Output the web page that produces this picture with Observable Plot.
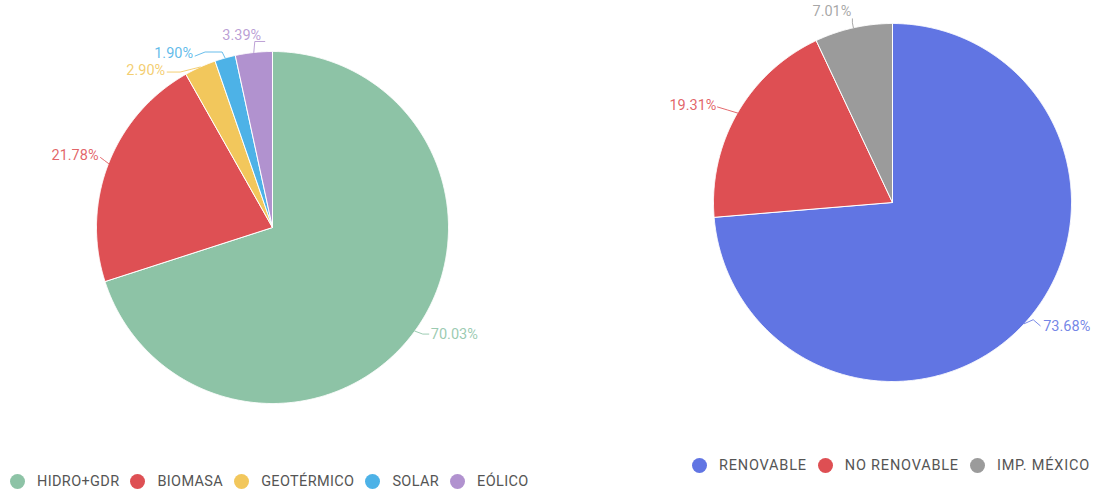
<!DOCTYPE html>
<html>
<head>
<meta charset="utf-8">
<script src="https://cdn.jsdelivr.net/npm/d3@7"></script>
<script src="https://cdn.jsdelivr.net/npm/@observablehq/plot@0.6"></script>
<style>
  body { margin: 0; background: #fff; font-family: Roboto, "Noto Sans", sans-serif; }
  #wrap { display: flex; width: 1097px; }
  .panel { position: relative; }
  .legend { display: flex; align-items: center; font-size: 14.5px; color: #555; white-space: nowrap; }
  .legend .item { display: flex; align-items: center; margin-right: 11px; }
  .legend .sw { width: 15px; height: 15px; border-radius: 50%; margin-right: 12px; }
</style>
</head>
<body>
<div id="wrap"><div class="panel" id="left"></div><div class="panel" id="right"></div></div>
<script>
// ---- Data ----
const leftCategories = ["HIDRO+GDR", "BIOMASA", "GEOTÉRMICO", "SOLAR", "EÓLICO"];
const leftValues = [70.03, 21.78, 2.90, 1.90, 3.39];
const leftColors = ["#8dc3a6", "#de5054", "#f2c75c", "#4db2e7", "#b192cf"];

const rightCategories = ["RENOVABLE", "NO RENOVABLE", "IMP. MÉXICO"];
const rightValues = [73.68, 19.31, 7.01];
const rightColors = ["#6175e3", "#de4f53", "#9b9b9b"];

// ---- Layout (label nudges in px from slice edge point, y down) ----
const leftLabelLayout = [
  {anchor: "start",  text: [16, 3],    leader: [[8, 3], [14, 3]]},
  {anchor: "end",    text: [-10, -8],  leader: [[-4, -3], [-8, -6]]},
  {anchor: "end",    text: [-35, 3],   leader: [[-20, 5], [-33, 5]]},
  {anchor: "end",    text: [-32, -5],  leader: [[-3, -6], [-20, -6], [-30, -2]]},
  {anchor: "middle", text: [-12, -17], leader: [[1, -11], [11, -11]]}
];
const rightLabelLayout = [
  {anchor: "start", text: [19, 3],   leader: [[9, -4], [16, 2]]},
  {anchor: "end",   text: [-21, -8], leader: [[-10, -3], [-20, -6]]},
  {anchor: "end",   text: [-2, -16], leader: [[-1, -5], [-1, -9]]}
];

function makePie({cats, vals, colors, layout, width, height, cx, cy, r}) {
  const total = d3.sum(vals);
  let acc = 0;
  const slices = [];
  const leaders = [];
  const labels = [];
  vals.forEach((v, i) => {
    const a0 = acc / total * 2 * Math.PI;
    acc += v;
    const a1 = acc / total * 2 * Math.PI;
    const n = Math.max(2, Math.ceil((a1 - a0) / 0.005));
    slices.push({name: cats[i], x: 0, y: 0});
    for (let k = 0; k <= n; k++) {
      const a = a0 + (a1 - a0) * k / n;
      slices.push({name: cats[i], x: Math.sin(a), y: Math.cos(a)});
    }
    slices.push({name: cats[i], x: 0, y: 0});
    const am = (a0 + a1) / 2;
    const ex = Math.sin(am), ey = Math.cos(am);
    const L = layout[i];
    leaders.push({name: cats[i], x: ex, y: ey});
    L.leader.forEach(([dx, dy]) => leaders.push({name: cats[i], x: ex + dx / r, y: ey - dy / r}));
    labels.push({name: cats[i], anchor: L.anchor, x: ex + L.text[0] / r, y: ey - L.text[1] / r,
                 text: v.toFixed(2) + "%"});
  });
  const textMark = (anchor) => Plot.text(labels.filter(d => d.anchor === anchor), {
    x: "x", y: "y", text: "text", fill: "name", textAnchor: anchor,
    fontSize: 14.5, fontFamily: "Roboto", fillOpacity: 0.88
  });
  return Plot.plot({
    width, height,
    marginLeft: cx - r, marginRight: width - cx - r,
    marginTop: cy - r, marginBottom: height - cy - r,
    x: {domain: [-1, 1], axis: null},
    y: {domain: [-1, 1], axis: null},
    color: {domain: cats, range: colors},
    style: {overflow: "visible", background: "transparent"},
    marks: [
      Plot.line(slices, {x: "x", y: "y", z: "name", fill: "name", stroke: "#fff", strokeWidth: 1, curve: "linear"}),
      Plot.line(leaders, {x: "x", y: "y", z: "name", stroke: "name", strokeWidth: 1, strokeOpacity: 0.85}),
      textMark("start"), textMark("end"), textMark("middle")
    ]
  });
}

function makeLegend(cats, colors, top, left, spacing) {
  const div = document.createElement("div");
  div.className = "legend";
  div.style.marginTop = top + "px";
  div.style.marginLeft = left + "px";
  div.style.letterSpacing = spacing + "px";
  cats.forEach((c, i) => {
    const item = document.createElement("div");
    item.className = "item";
    const sw = document.createElement("span");
    sw.className = "sw";
    sw.style.background = colors[i];
    const t = document.createElement("span");
    t.textContent = c;
    item.append(sw, t);
    div.append(item);
  });
  return div;
}

const leftEl = document.getElementById("left");
leftEl.style.width = "548px";
leftEl.append(makePie({cats: leftCategories, vals: leftValues, colors: leftColors, layout: leftLabelLayout,
  width: 548, height: 440, cx: 272, cy: 227, r: 176}));
leftEl.append(makeLegend(leftCategories, leftColors, 33, 10, 0.35));

const rightEl = document.getElementById("right");
rightEl.style.width = "549px";
rightEl.append(makePie({cats: rightCategories, vals: rightValues, colors: rightColors, layout: rightLabelLayout,
  width: 549, height: 440, cx: 344, cy: 202, r: 179}));
rightEl.append(makeLegend(rightCategories, rightColors, 17, 144, 0.8));
</script>
</body>
</html>
